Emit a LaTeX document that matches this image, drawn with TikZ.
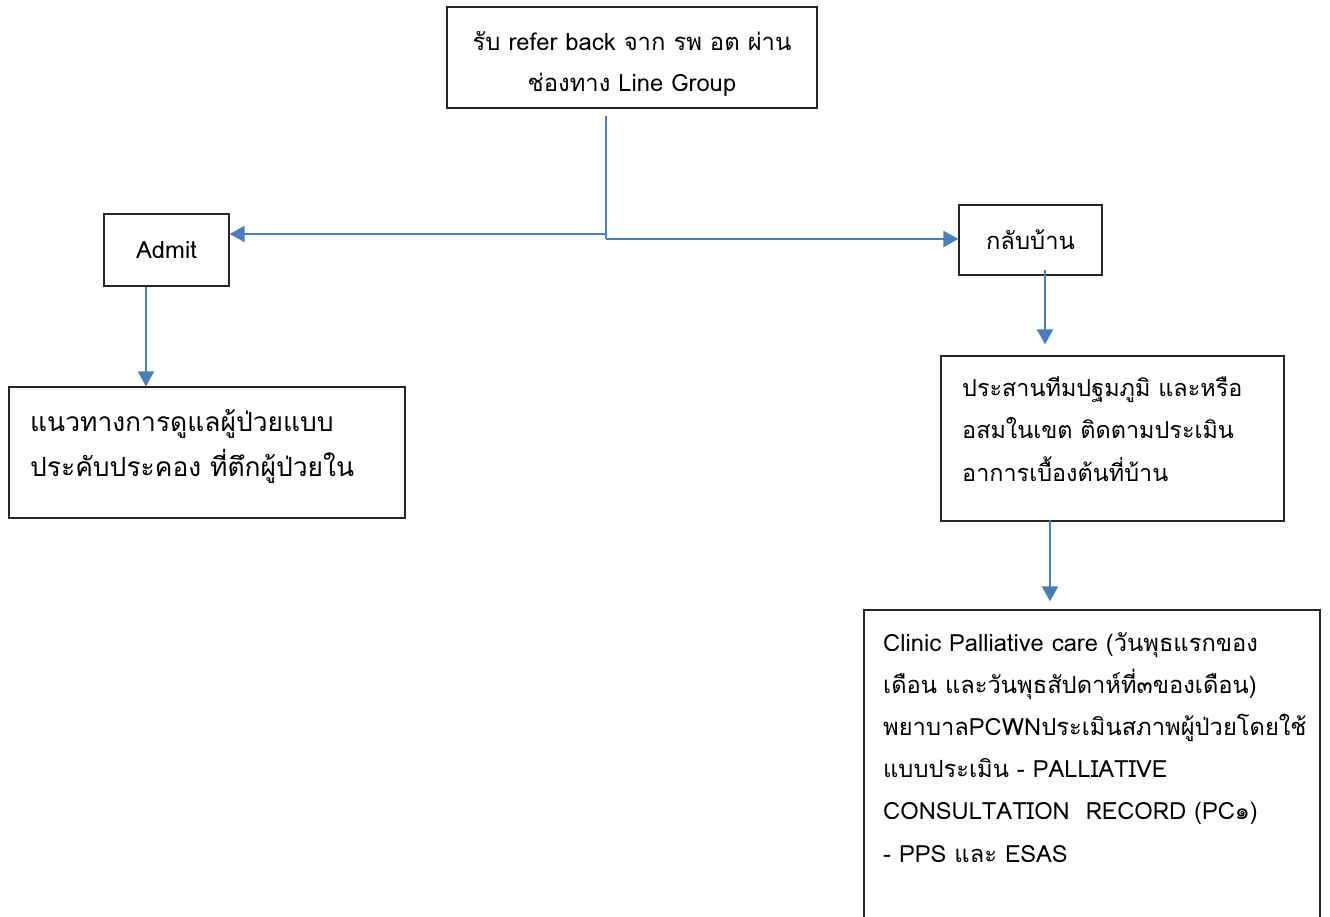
\documentclass[tikz,border=0pt]{standalone}
\usepackage{fontspec}
\setmainfont[Script=Thai]{Loma}
\usetikzlibrary{arrows.meta}
\definecolor{linkblue}{HTML}{4A7EBB}
\tikzset{
  box/.style={draw=black!85, line width=1.3pt, fill=white, inner sep=0pt},
  link/.style={draw=linkblue, line width=2.3pt},
  flow/.style={link, -{Triangle[length=15pt,width=16pt]}},
  txt/.style={inner sep=0pt, align=left, anchor=north west},
}
\begin{document}
\begin{tikzpicture}[x=1pt,y=-1pt]
\useasboundingbox (0,0) rectangle (1330,916);

% boxes
\node[box, minimum width=370pt, minimum height=101pt] (refer) at (632,57.5) {};
\node[box, minimum width=125pt, minimum height=72pt,
      font=\fontsize{23.8}{28}\selectfont] (admit) at (166.5,250) {Admit};
\node[box, minimum width=143pt, minimum height=70pt,
      font=\fontsize{23.8}{28}\selectfont] (home) at (1030.5,240) {กลับบ้าน};
\node[box, minimum width=396pt, minimum height=131pt] (care) at (207,452.5) {};
\node[box, minimum width=343pt, minimum height=165pt] (coord) at (1112.5,438.5) {};
\node[box, minimum width=456pt, minimum height=310pt] (clinic) at (1092,765) {};

% box texts
\node[inner sep=0pt, align=center, font=\fontsize{23.8}{41}\selectfont]
  (refertext) at (632,63.5)
  {รับ refer back จาก รพ อต ผ่าน\\ช่องทาง Line Group};
\node[txt, font=\fontsize{26.4}{45}\selectfont] (caretext) at (30,409)
  {แนวทางการดูแลผู้ป่วยแบบ\\ประคับประคอง ที่ตึกผู้ป่วยใน};
\node[txt, font=\fontsize{23.4}{42.5}\selectfont] (coordtext) at (962,376)
  {ประสานทีมปฐมภูมิ และหรือ\\อสมในเขต ติดตามประเมิน\\อาการเบื้องต้นที่บ้าน};
\node[txt, font=\fontsize{23.7}{42.2}\selectfont] (clinictext) at (883,632)
  {Clinic Palliative care (วันพุธแรกของ\\เดือน และวันพุธสัปดาห์ที่๓ของเดือน)\\พยาบาลPCWNประเมินสภาพผู้ป่วยโดยใช้\\แบบประเมิน - PALLIATIVE\\CONSULTATION\ \ RECORD (PC๑)\\- PPS และ ESAS};

% connectors
\coordinate (fork) at (606,116);
\coordinate (forkL) at (606,234);
\coordinate (forkR) at (606,239);
\draw[link] (fork) -- (forkR);
\draw[flow] (forkL) -- (admit.east |- forkL);
\draw[flow] (forkR) -- (home.west |- forkR);
\draw[flow] ([xshift=-20.5pt]admit.south) -- ([xshift=-20.5pt]admit.south |- care.north);
\draw[flow, shorten >=11pt] ([xshift=14.5pt,yshift=6pt]home.south) -- ([xshift=14.5pt]home.south |- coord.north);
\draw[flow, shorten >=8pt] ([xshift=-62.5pt,yshift=2pt]coord.south) -- ([xshift=-62.5pt]coord.south |- clinic.north);
\end{tikzpicture}
\end{document}
